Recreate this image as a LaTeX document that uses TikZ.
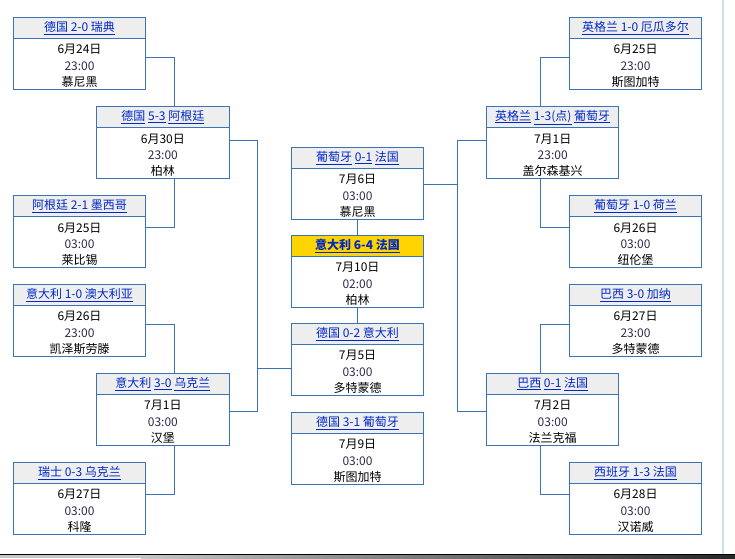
\documentclass[tikz,border=0pt]{standalone}
\usepackage{fontspec}
\newfontfamily\cjk{Noto Sans CJK SC}
\usetikzlibrary{positioning}
\definecolor{frame}{RGB}{60,115,180}
\definecolor{head}{RGB}{238,238,238}
\definecolor{gold}{RGB}{255,212,0}
\definecolor{link}{RGB}{0,40,200}
\definecolor{clock}{RGB}{45,45,80}
\definecolor{edge}{RGB}{205,222,240}
\tikzstyle{match-head}=[draw=frame, fill=head, line width=1pt, rectangle, outer sep=0pt, inner sep=0pt, minimum width=132.4pt, minimum height=21pt, anchor=north west, text=link, font=\cjk\fontsize{12}{14}\selectfont]
\tikzstyle{final-head}=[match-head, fill=gold, font=\cjk\bfseries\fontsize{12}{14}\selectfont]
\tikzstyle{match-body}=[draw=frame, fill=white, line width=1pt, rectangle, outer sep=0pt, inner sep=0pt, minimum width=132.4pt, minimum height=51pt, align=center, text height=45.2pt, text depth=0pt, font=\cjk\fontsize{12}{16.3}\selectfont]
\tikzstyle{link-line}=[draw=frame, line width=1pt]

\begin{document}
\begin{tikzpicture}[x=1pt, y=-1pt]
\useasboundingbox (0,0) rectangle (735,558);

\node[match-head] (m1h) at (13.3,17.3) {\underline{德国 2-0 瑞典}};
\node[match-body, below=0pt of m1h] (m1) {6月24日\\\textcolor{clock}{23:00}\\慕尼黑};

\node[match-head] (q1h) at (96.7,106.7) {\underline{德国} \underline{5-3} \underline{阿根廷}};
\node[match-body, below=0pt of q1h] (q1) {6月30日\\\textcolor{clock}{23:00}\\柏林};

\node[match-head] (m2h) at (13.3,195.7) {\underline{阿根廷 2-1 墨西哥}};
\node[match-body, below=0pt of m2h] (m2) {6月25日\\\textcolor{clock}{03:00}\\莱比锡};

\node[match-head] (m3h) at (13.3,284.3) {\underline{意大利 1-0 澳大利亚}};
\node[match-body, below=0pt of m3h] (m3) {6月26日\\\textcolor{clock}{23:00}\\凯泽斯劳滕};

\node[match-head] (q2h) at (96.7,373.3) {\underline{意大利} \underline{3-0} \underline{乌克兰}};
\node[match-body, below=0pt of q2h] (q2) {7月1日\\\textcolor{clock}{03:00}\\汉堡};

\node[match-head] (m4h) at (13.3,462.3) {\underline{瑞士 0-3 乌克兰}};
\node[match-body, below=0pt of m4h] (m4) {6月27日\\\textcolor{clock}{03:00}\\科隆};

\node[match-head] (s1h) at (291.3,147.3) {\underline{葡萄牙} \underline{0-1} \underline{法国}};
\node[match-body, below=0pt of s1h] (s1) {7月6日\\\textcolor{clock}{03:00}\\慕尼黑};

\node[final-head] (fh) at (291.3,235.3) {\underline{意大利 6-4 法国}};
\node[match-body, below=0pt of fh] (f) {7月10日\\\textcolor{clock}{02:00}\\柏林};

\node[match-head] (s2h) at (291.3,323.3) {\underline{德国 0-2 意大利}};
\node[match-body, below=0pt of s2h] (s2) {7月5日\\\textcolor{clock}{03:00}\\多特蒙德};

\node[match-head] (th) at (291.3,412.3) {\underline{德国 3-1 葡萄牙}};
\node[match-body, below=0pt of th] (t) {7月9日\\\textcolor{clock}{03:00}\\斯图加特};

\node[match-head] (r1h) at (569.3,17.3) {\underline{英格兰 1-0 厄瓜多尔}};
\node[match-body, below=0pt of r1h] (r1) {6月25日\\\textcolor{clock}{23:00}\\斯图加特};

\node[match-head] (p1h) at (486.5,106.7) {\underline{英格兰} \underline{1-3(点)} \underline{葡萄牙}};
\node[match-body, below=0pt of p1h] (p1) {7月1日\\\textcolor{clock}{23:00}\\盖尔森基兴};

\node[match-head] (r2h) at (569.3,195.7) {\underline{葡萄牙 1-0 荷兰}};
\node[match-body, below=0pt of r2h] (r2) {6月26日\\\textcolor{clock}{03:00}\\纽伦堡};

\node[match-head] (r3h) at (569.3,284.3) {\underline{巴西 3-0 加纳}};
\node[match-body, below=0pt of r3h] (r3) {6月27日\\\textcolor{clock}{23:00}\\多特蒙德};

\node[match-head] (p2h) at (486.5,373.3) {\underline{巴西} \underline{0-1} \underline{法国}};
\node[match-body, below=0pt of p2h] (p2) {7月2日\\\textcolor{clock}{03:00}\\法兰克福};

\node[match-head] (r4h) at (569.3,462.3) {\underline{西班牙 1-3 法国}};
\node[match-body, below=0pt of r4h] (r4) {6月28日\\\textcolor{clock}{03:00}\\汉诺威};

\draw[link-line] ([yshift=6.5pt]m1.east) -| ([xshift=11.5pt]q1h.north);
\draw[link-line] ([yshift=15pt]m2.east) -| ([xshift=11.5pt]q1.south);
\draw[link-line] ([yshift=6.5pt]m3.east) -| ([xshift=11.5pt]q2h.north);
\draw[link-line] ([yshift=14.5pt]m4.east) -| ([xshift=11.5pt]q2.south);
\draw[link-line] ([yshift=12.8pt]q1.east) -- ++(28.6,0) |- ([yshift=8.8pt]q2.east);
\draw[link-line] ([yshift=1.5pt]s2.west) -- ++(-34,0);
\draw[link-line] (s1.south) -- (fh.north);
\draw[link-line] (f.south) -- (s2h.north);
\draw[link-line] ([yshift=9.8pt]s1.east) -- ++(33.6,0);
\draw[link-line] ([yshift=12.8pt]p1.west) -- ++(-29.2,0) |- ([yshift=8.8pt]p2.west);
\draw[link-line] ([yshift=6.5pt]r1.west) -| ([xshift=-12.2pt]p1h.north);
\draw[link-line] ([yshift=15pt]r2.west) -| ([xshift=-12.2pt]p1.south);
\draw[link-line] ([yshift=6.5pt]r3.west) -| ([xshift=-12.2pt]p2h.north);
\draw[link-line] ([yshift=14.5pt]r4.west) -| ([xshift=-12.2pt]p2.south);

\draw[edge, line width=2pt] (722.7,0) -- (722.7,554);
\fill[gray!45] (0,554) rectangle (141,558);
\shade[left color=gray!45, right color=black!85] (141,554) rectangle (735,558);
\draw[black] (0,554) -- (735,554);
\end{tikzpicture}
\end{document}
